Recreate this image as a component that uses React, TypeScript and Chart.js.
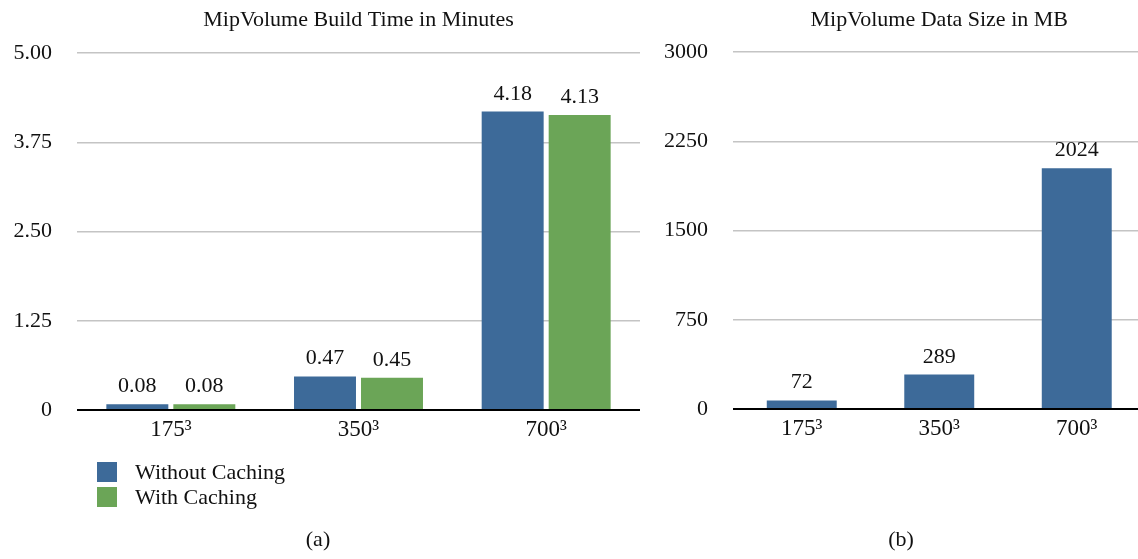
import React, { useEffect, useRef } from 'react';
import { Chart, registerables } from 'chart.js';

Chart.register(...registerables);

// ---------- data ----------
const categories = ['175³', '350³', '700³'];
const seriesNames = ['Without Caching', 'With Caching'];
const buildTimeWithout = [0.08, 0.47, 4.18];
const buildTimeWith = [0.08, 0.45, 4.13];
const dataSizeMB = [72, 289, 2024];
const buildTimeTicks = [0, 1.25, 2.5, 3.75, 5];
const dataSizeTicks = [0, 750, 1500, 2250, 3000];
const titles = ['MipVolume Build Time in Minutes', 'MipVolume Data Size in MB'];
const captions = ['(a)', '(b)'];

// ---------- style ----------
const FONT = '"Liberation Serif", "Times New Roman", serif';
const BLUE = '#3d6a99';
const GREEN = '#6ba557';
const GRID = '#c4c4c4';

type AnnCfg = {
  title: string;
  caption: string;
  captionX: number;
  fmt: (v: number) => string;
  legend?: { names: string[]; colors: string[] };
};

const annotate = (cfg: AnnCfg) => ({
  id: 'annotate',
  afterDatasetsDraw(chart: any) {
    const ctx = chart.ctx as CanvasRenderingContext2D;
    ctx.save();
    ctx.fillStyle = '#111';
    ctx.font = `22px ${FONT}`;
    ctx.textAlign = 'center';
    ctx.textBaseline = 'alphabetic';
    chart.data.datasets.forEach((ds: any, i: number) => {
      const meta = chart.getDatasetMeta(i);
      meta.data.forEach((el: any, j: number) => {
        ctx.fillText(cfg.fmt(ds.data[j]), el.x, el.y - 12);
      });
    });
    const { left, right } = chart.chartArea;
    ctx.fillText(cfg.title, (left + right) / 2, 26);
    ctx.fillText(cfg.caption, cfg.captionX, 546);
    if (cfg.legend) {
      ctx.textAlign = 'left';
      cfg.legend.names.forEach((name, i) => {
        ctx.fillStyle = cfg.legend!.colors[i];
        ctx.fillRect(97, 462 + i * 25, 20, 20);
        ctx.fillStyle = '#111';
        ctx.fillText(name, 135, 479 + i * 25);
      });
    }
    ctx.restore();
  },
});

const yScale = (ticks: number[], width: number, fmt: (v: number) => string) => ({
  min: ticks[0],
  max: ticks[ticks.length - 1],
  afterBuildTicks: (scale: any) => {
    scale.ticks = ticks.map((v) => ({ value: v }));
  },
  afterFit: (scale: any) => {
    scale.width = width;
  },
  border: { display: false },
  grid: {
    drawTicks: false,
    color: (c: any) => (c.tick && c.tick.value === 0 ? '#000' : GRID),
    lineWidth: (c: any) => (c.tick && c.tick.value === 0 ? 2 : 1.5),
  },
  ticks: {
    padding: 25,
    color: '#111',
    font: { family: FONT, size: 22 },
    callback: (v: any) => fmt(Number(v)),
  },
});

const xScale = () => ({
  afterFit: (scale: any) => {
    scale.height = 40;
  },
  border: { display: false },
  grid: { display: false, drawTicks: false },
  ticks: {
    padding: 6,
    color: '#111',
    font: { family: FONT, size: 23 },
  },
});

export default function App() {
  const leftRef = useRef<HTMLCanvasElement>(null);
  const rightRef = useRef<HTMLCanvasElement>(null);

  useEffect(() => {
    const c1 = new Chart(leftRef.current!, {
      type: 'bar',
      data: {
        labels: categories,
        datasets: [
          {
            label: seriesNames[0],
            data: buildTimeWithout,
            backgroundColor: BLUE,
            categoryPercentage: 0.714,
            barPercentage: 0.925,
          },
          {
            label: seriesNames[1],
            data: buildTimeWith,
            backgroundColor: GREEN,
            categoryPercentage: 0.714,
            barPercentage: 0.925,
          },
        ],
      },
      options: {
        responsive: false,
        animation: false,
        layout: { padding: { left: 0, right: 20, top: 53, bottom: 109 } },
        plugins: { legend: { display: false }, tooltip: { enabled: false }, title: { display: false } },
        scales: {
          x: xScale() as any,
          y: yScale(buildTimeTicks, 77, (v) => (v === 0 ? '0' : v.toFixed(2))) as any,
        },
      },
      plugins: [
        annotate({
          title: titles[0],
          caption: captions[0],
          captionX: 318,
          fmt: (v) => v.toFixed(2),
          legend: { names: seriesNames, colors: [BLUE, GREEN] },
        }),
      ],
    });

    const c2 = new Chart(rightRef.current!, {
      type: 'bar',
      data: {
        labels: categories,
        datasets: [
          {
            label: 'Data Size',
            data: dataSizeMB,
            backgroundColor: BLUE,
            categoryPercentage: 0.55,
            barPercentage: 0.925,
          },
        ],
      },
      options: {
        responsive: false,
        animation: false,
        layout: { padding: { left: 0, right: 14.5, top: 52, bottom: 110 } },
        plugins: { legend: { display: false }, tooltip: { enabled: false }, title: { display: false } },
        scales: {
          x: xScale() as any,
          y: yScale(dataSizeTicks, 73, (v) => String(v)) as any,
        },
      },
      plugins: [
        annotate({
          title: titles[1],
          caption: captions[1],
          captionX: 241,
          fmt: (v) => String(v),
        }),
      ],
    });

    return () => {
      c1.destroy();
      c2.destroy();
    };
  }, []);

  return (
    <div
      style={{
        position: 'fixed',
        left: 0,
        top: 0,
        width: 1138,
        height: 559,
        overflow: 'hidden',
        background: '#fff',
      }}
    >
      <canvas ref={leftRef} width={660} height={559} style={{ position: 'absolute', left: 0, top: 0 }} />
      <canvas ref={rightRef} width={500} height={559} style={{ position: 'absolute', left: 660, top: 0 }} />
    </div>
  );
}
